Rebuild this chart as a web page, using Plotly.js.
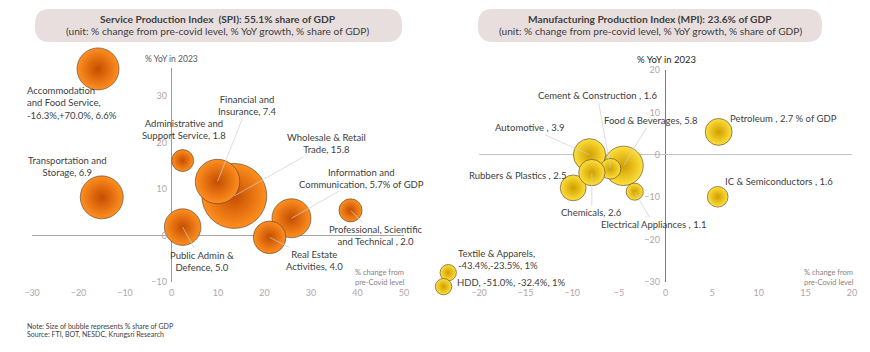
<!DOCTYPE html>
<html><head><meta charset="utf-8">
<script src="https://cdn.plot.ly/plotly-3.0.1.min.js"></script>
<style>html,body{margin:0;padding:0;background:#fff}#chart{width:870px;height:352px}</style>
</head><body><div id="chart"></div>
<script>
// ---------- Service Production Index (left) ----------
const spiSectors = ["Accommodation and Food Service","Transportation and Storage","Administrative and Support Service","Wholesale & Retail Trade","Financial and Insurance","Information and Communication","Real Estate Activities","Professional, Scientific and Technical","Public Admin & Defence"];
// % change from pre-covid level (x, as plotted)
const spiChange = [-15.8, -15.0, 2.4, 13.5, 9.9, 25.8, 21.1, 38.5, 2.4];
// % YoY in 2023 (y, as plotted; Accommodation's +70% is drawn at the top edge)
const spiYoY = [35.8, 8.2, 16.1, 8.5, 11.6, 3.7, -0.4, 5.4, 1.8];
// % share of GDP (bubble size)
const spiShare = [6.6, 6.9, 1.8, 15.8, 7.4, 5.7, 4.0, 2.0, 5.0];
const spiLabels = ["Accommodation<br>and Food Service,<br>-16.3%,+70.0%, 6.6%","Transportation and<br>Storage, 6.9","Administrative and<br>Support Service, 1.8","Wholesale & Retail<br>Trade, 15.8","Financial and<br>Insurance, 7.4","Information and<br>Communication, 5.7% of GDP","Real Estate<br>Activities, 4.0","Professional, Scientific<br>and Technical , 2.0","Public Admin &<br>Defence, 5.0"];

// ---------- Manufacturing Production Index (right) ----------
const mpiSectors = ["Petroleum","IC & Semiconductors","Automotive","Food & Beverages","Cement & Construction","Rubbers & Plastics","Chemicals","Electrical Appliances","Textile & Apparels","HDD"];
// x / y as plotted (Textile and HDD are drawn just outside the axes, beside the -20 corner)
const mpiChange = [5.7, 5.6, -8.15, -4.5, -5.9, -9.9, -7.9, -3.3, -23.3, -23.8];
const mpiYoY = [5.4, -9.9, 0.0, -2.6, -3.3, -7.8, -4.2, -8.7, -27.8, -31.1];
const mpiShare = [2.7, 1.6, 3.9, 5.8, 1.6, 2.5, 2.6, 1.1, 1.0, 1.0];
const mpiLabels = ["Petroleum , 2.7 % of GDP","IC & Semiconductors , 1.6","Automotive , 3.9","Food & Beverages, 5.8","Cement & Construction , 1.6","Rubbers & Plastics , 2.5","Chemicals, 2.6","Electrical Appliances , 1.1","Textile & Apparels,<br>-43.4%,-23.5%, 1%","HDD, -51.0%, -32.4%, 1%"];

const xTicksSPI = [-30,-20,-10,0,10,20,30,40,50];
const yTicksSPI = [-10,0,10,20,30];
const xTicksMPI = [-20,-15,-10,-5,0,5,10,15,20];
const yTicksMPI = [-30,-20,-10,0,10,20];

// ---------- label placement (pixel offsets from bubble, leader line flag, anchor) ----------
const spiLabelPos = [[-73,34,false,'left'],[-34,-31,false,'center'],[1,-31,false,'center'],[92,-52,true,'center'],[30,-76,true,'center'],[70,-40,true,'center'],[45,23,true,'center'],[25,25,true,'center'],[19,34,true,'center']];
const mpiLabelPos = [[65,-13,false,'center'],[61,-15,false,'center'],[-60,-27,true,'center'],[27,-45,true,'center'],[-13,-73,true,'center'],[-56,-12,false,'center'],[0,40,true,'center'],[19,33,true,'center'],[8,-13,false,'left'],[11,-4,false,'left']];
// which MPI points sit on the extended (off-axis) layer
const mpiOffAxis = [false,false,false,false,false,false,false,false,true,true];

const FONT = "Lato, 'Liberation Sans', sans-serif";
const LABEL_COLOR = '#404040';
const TICK_COLOR = '#b3a6a6';
const SIZEREF = 6.6 / (2 * 21 * 21);

function bubbleTrace(x, y, s, names, xa, ya, color, edge) {
  return {
    type: 'scatter', mode: 'markers', x: x, y: y, text: names, xaxis: xa, yaxis: ya,
    cliponaxis: false, hoverinfo: 'text',
    marker: { size: s, sizemode: 'area', sizeref: SIZEREF, color: color,
      gradient: { type: 'radial', color: edge },
      line: { color: 'rgba(80,60,50,0.75)', width: 0.8 }, opacity: 1 }
  };
}
function pick(arr, flags, want) { return arr.filter((v, i) => flags[i] === want); }

const ORANGE = '#ff8f1f', ORANGE_EDGE = '#c44d00';
const GOLD = '#ffe03a', GOLD_EDGE = '#cf9e00';
const traces = [
  bubbleTrace(spiChange, spiYoY, spiShare, spiSectors, 'x', 'y', ORANGE, ORANGE_EDGE),
  bubbleTrace(pick(mpiChange, mpiOffAxis, false), pick(mpiYoY, mpiOffAxis, false), pick(mpiShare, mpiOffAxis, false), pick(mpiSectors, mpiOffAxis, false), 'x2', 'y2', GOLD, GOLD_EDGE),
  bubbleTrace(pick(mpiChange, mpiOffAxis, true), pick(mpiYoY, mpiOffAxis, true), pick(mpiShare, mpiOffAxis, true), pick(mpiSectors, mpiOffAxis, true), 'x3', 'y3', GOLD, GOLD_EDGE)
];

const annotations = [];
function addLabel(x, y, label, p, xref, yref) {
  const a = { x: x, y: y, xref: xref, yref: yref, text: label,
    font: { family: FONT, size: 9.5, color: LABEL_COLOR }, align: p[3] === 'left' ? 'left' : 'center' };
  if (p[2]) {
    Object.assign(a, { showarrow: true, ax: p[0], ay: p[1], arrowhead: 0, arrowwidth: 0.7,
      arrowcolor: '#cfcfcf', standoff: 0 });
  } else {
    Object.assign(a, { showarrow: false, xshift: p[0], yshift: -p[1], xanchor: p[3], yanchor: 'middle' });
  }
  annotations.push(a);
}
spiLabels.forEach((l, i) => addLabel(spiChange[i], spiYoY[i], l, spiLabelPos[i], 'x', 'y'));
mpiLabels.forEach((l, i) => addLabel(mpiChange[i], mpiYoY[i], l, mpiLabelPos[i], mpiOffAxis[i] ? 'x3' : 'x2', mpiOffAxis[i] ? 'y3' : 'y2'));

function paperY(px) { return 1 - px / 352; }
function paperX(px) { return px / 870; }
function txt(text, px, py, size, color, anchor, bold) {
  annotations.push({ xref: 'paper', yref: 'paper', x: paperX(px), y: paperY(py), text: bold ? '<b>' + text + '</b>' : text,
    showarrow: false, xanchor: anchor || 'center', yanchor: 'middle', align: 'left',
    font: { family: FONT, size: size, color: color } });
}
// titles
txt('Service Production Index  (SPI): 55.1% share of GDP', 218, 19, 10.2, '#404040', 'center', true);
txt('(unit: % change from pre-covid level, % YoY growth, % share of GDP)', 218, 31, 10.2, '#404040');
txt('Manufacturing Production Index (MPI): 23.6% of GDP', 650, 19, 10.2, '#404040', 'center', true);
txt('(unit: % change from pre-covid level, % YoY growth, % share of GDP)', 650, 31, 10.2, '#404040');
// axis titles
txt('% YoY in 2023', 171, 59, 8.5, '#595959');
txt('% YoY in 2023', 666, 60, 9.5, '#262626');
txt('% change from<br>pre-Covid level', 353, 277, 7.5, '#8c8080', 'left');
txt('% change from<br>pre-Covid level', 802, 277, 7.5, '#8c8080', 'left');
// footnote
txt('Note: Size of bubble represents % share of GDP', 25, 326, 7, '#404040', 'left');
txt('Source: FTI, BOT, NESDC, Krungsri Research', 25, 334.5, 7, '#404040', 'left');

function pill(x0, x1, y0, y1, r) {
  const X = v => (v / 870).toFixed(5), Y = v => (1 - v / 352).toFixed(5);
  return `M ${X(x0 + r)} ${Y(y0)} L ${X(x1 - r)} ${Y(y0)} Q ${X(x1)} ${Y(y0)} ${X(x1)} ${Y(y0 + r)} ` +
    `L ${X(x1)} ${Y(y1 - r)} Q ${X(x1)} ${Y(y1)} ${X(x1 - r)} ${Y(y1)} L ${X(x0 + r)} ${Y(y1)} ` +
    `Q ${X(x0)} ${Y(y1)} ${X(x0)} ${Y(y1 - r)} L ${X(x0)} ${Y(y0 + r)} Q ${X(x0)} ${Y(y0)} ${X(x0 + r)} ${Y(y0)} Z`;
}
const shapes = [
  { type: 'path', xref: 'paper', yref: 'paper', path: pill(35, 402, 9, 42, 15), fillcolor: '#e8dede', line: { width: 0 }, layer: 'below' },
  { type: 'path', xref: 'paper', yref: 'paper', path: pill(478, 822, 9, 42, 15), fillcolor: '#e8dede', line: { width: 0 }, layer: 'below' }
];

const tickFont = { family: FONT, size: 9, color: TICK_COLOR };
const layout = {
  width: 870, height: 352, margin: { l: 0, r: 0, t: 0, b: 0 },
  paper_bgcolor: '#ffffff', plot_bgcolor: 'rgba(0,0,0,0)', showlegend: false,
  font: { family: FONT },
  xaxis: { domain: [32/870, 404/870], range: [-30, 50], tickvals: xTicksSPI, showgrid: false,
    zeroline: true, zerolinecolor: '#9a9a9a', zerolinewidth: 1, showline: false, ticks: '',
    tickfont: tickFont, anchor: 'y', fixedrange: true, ticklabelstandoff: 4 },
  yaxis: { domain: [70/352, 284/352], range: [-10, 36], tickvals: yTicksSPI, showgrid: false,
    zeroline: true, zerolinecolor: '#a6a6a6', zerolinewidth: 1, showline: false, ticks: '',
    tickfont: tickFont, anchor: 'free', position: 172/870, fixedrange: true, ticklabelstandoff: 5 },
  xaxis2: { domain: [479/870, 852/870], range: [-20, 20], tickvals: xTicksMPI, showgrid: false,
    zeroline: true, zerolinecolor: '#7a7a7a', zerolinewidth: 1, showline: false, ticks: '',
    tickfont: tickFont, anchor: 'y2', fixedrange: true, ticklabelstandoff: 4 },
  yaxis2: { domain: [70/352, 282/352], range: [-30, 20], tickvals: yTicksMPI, showgrid: false,
    zeroline: true, zerolinecolor: '#c4c4c4', zerolinewidth: 1, showline: false, ticks: '',
    tickfont: tickFont, anchor: 'free', position: 665/870, fixedrange: true, ticklabelstandoff: 5 },
  // same scale as xaxis2/yaxis2, extended so the off-axis Textile/HDD bubbles can be drawn
  xaxis3: { domain: [(479 - 5 * 9.325)/870, 852/870], range: [-25, 20], visible: false, anchor: 'y3', fixedrange: true },
  yaxis3: { domain: [(70 - 0)/352 - 21.2/352, 282/352], range: [-35, 20], visible: false, anchor: 'x3', fixedrange: true },
  annotations: annotations, shapes: shapes
};

Plotly.newPlot('chart', traces, layout, { displayModeBar: false, staticPlot: true });
</script></body></html>
